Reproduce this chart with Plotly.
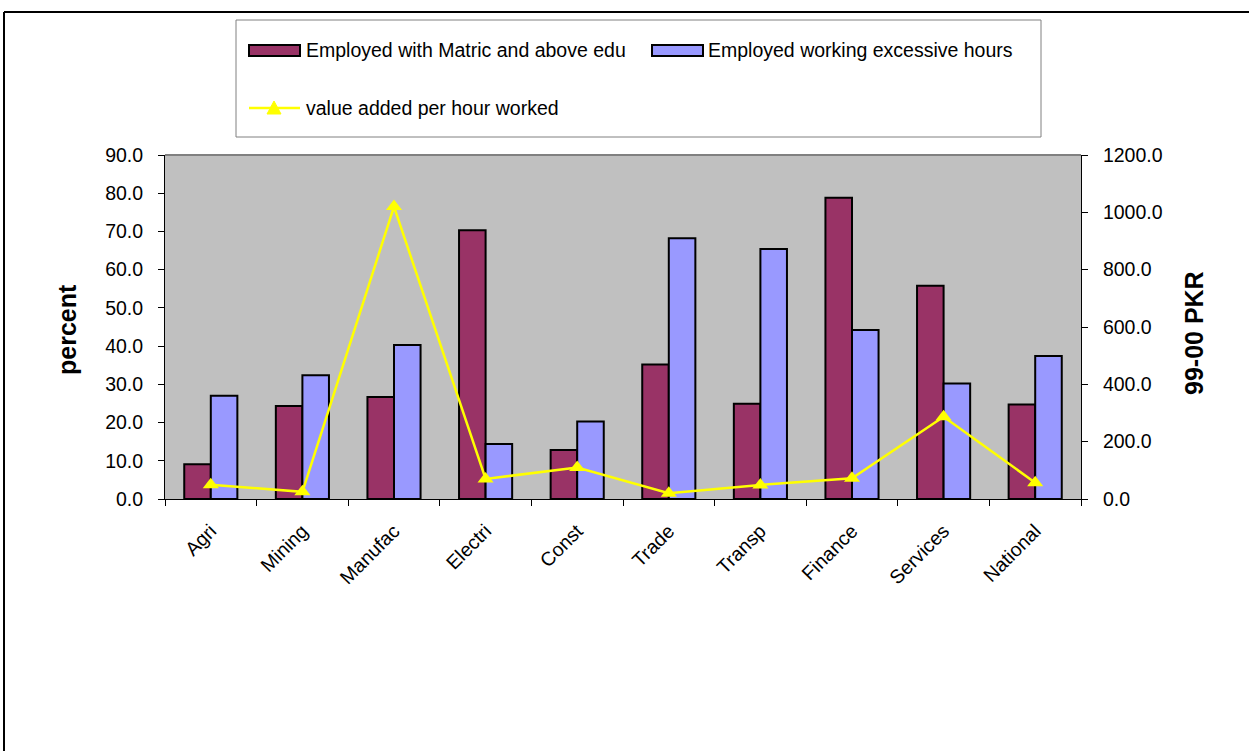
import plotly.graph_objects as go

categories = ["Agri", "Mining", "Manufac", "Electri", "Const", "Trade", "Transp", "Finance", "Services", "National"]
matric = [9.1, 24.3, 26.7, 70.3, 12.8, 35.2, 24.9, 78.8, 55.8, 24.7]
excess = [27.0, 32.4, 40.3, 14.4, 20.3, 68.2, 65.4, 44.2, 30.2, 37.4]
value_added = [50, 25, 1020, 70, 110, 20, 49, 72, 287, 57]

name_matric = "Employed with Matric and above edu"
name_excess = "Employed working excessive hours"
name_va = "value added per hour worked"

MAROON = "#993366"
BLUE = "#9999FF"
YELLOW = "#FFFF00"
FONT = "Liberation Sans, Arial, sans-serif"
TS = 19.5

W, H = 1249, 751
L, R, T, B = 165, 168, 155, 252
PW, PH = W - L - R, H - T - B


def px(x):
    return (x - L) / PW


def py(y):
    return (H - B - y) / PH


fig = go.Figure()
fig.add_trace(go.Bar(x=categories, y=matric, name=name_matric,
                     marker=dict(color=MAROON, line=dict(color="black", width=2))))
fig.add_trace(go.Bar(x=categories, y=excess, name=name_excess,
                     marker=dict(color=BLUE, line=dict(color="black", width=2))))
fig.add_trace(go.Scatter(x=categories, y=value_added, name=name_va, yaxis="y2",
                         mode="lines+markers",
                         line=dict(color=YELLOW, width=2.5),
                         marker=dict(symbol="triangle-up", size=14, color=YELLOW)))

axis_common = dict(showgrid=False, zeroline=False, showline=True, linecolor="black",
                   linewidth=1, ticks="outside", ticklen=6, tickcolor="black",
                   tickfont=dict(family=FONT, size=TS, color="black"))

fig.update_layout(
    width=W, height=H, autosize=False,
    margin=dict(l=L, r=R, t=T, b=B, pad=0),
    paper_bgcolor="white", plot_bgcolor="#C0C0C0",
    showlegend=False,
    barmode="group", bargap=0.42, bargroupgap=0,
    font=dict(family=FONT, size=TS, color="black"),
    xaxis=dict(type="category", range=[-0.5, len(categories) - 0.5], tickson="boundaries",
               tickangle=-45, ticklabelstandoff=12, **axis_common),
    yaxis=dict(range=[0, 90], dtick=10, tickformat=".1f", ticklabelstandoff=11,
               **axis_common),
    yaxis2=dict(range=[0, 1200], dtick=200, tickformat=".1f", overlaying="y",
                side="right", ticklabelstandoff=11, **axis_common),
)

shapes = []
# plot area top border
shapes.append(dict(type="line", xref="paper", yref="paper", x0=0, x1=1, y0=1, y1=1,
                   line=dict(color="#808080", width=2)))
# outer frame (top and left)
shapes.append(dict(type="line", xref="paper", yref="paper", x0=px(4), x1=px(1250),
                   y0=py(12), y1=py(12), line=dict(color="black", width=2)))
shapes.append(dict(type="line", xref="paper", yref="paper", x0=px(4), x1=px(4),
                   y0=py(12), y1=py(752), line=dict(color="black", width=2)))
# legend box
shapes.append(dict(type="rect", xref="paper", yref="paper", x0=px(236), x1=px(1041),
                   y0=py(137), y1=py(20), line=dict(color="#808080", width=1),
                   fillcolor="white"))
# legend swatches
shapes.append(dict(type="rect", xref="paper", yref="paper", x0=px(249), x1=px(300),
                   y0=py(56), y1=py(45), line=dict(color="black", width=2),
                   fillcolor=MAROON))
shapes.append(dict(type="rect", xref="paper", yref="paper", x0=px(652), x1=px(703),
                   y0=py(56), y1=py(45), line=dict(color="black", width=2),
                   fillcolor=BLUE))
shapes.append(dict(type="line", xref="paper", yref="paper", x0=px(249), x1=px(300),
                   y0=py(108), y1=py(108), line=dict(color=YELLOW, width=2.5)))
shapes.append(dict(type="path", xref="paper", yref="paper",
                   path="M {} {} L {} {} L {} {} Z".format(px(267), py(114), px(281), py(114),
                                                          px(274), py(101)),
                   line=dict(color=YELLOW, width=1), fillcolor=YELLOW))
fig.update_layout(shapes=shapes)

ann = []
ann.append(dict(text=name_matric, x=px(304), y=py(50), xref="paper", yref="paper",
                xanchor="left", yanchor="middle", showarrow=False,
                font=dict(family=FONT, size=TS, color="black")))
ann.append(dict(text=name_excess, x=px(706), y=py(50), xref="paper", yref="paper",
                xanchor="left", yanchor="middle", showarrow=False,
                font=dict(family=FONT, size=TS, color="black")))
ann.append(dict(text=name_va, x=px(304), y=py(108), xref="paper", yref="paper",
                xanchor="left", yanchor="middle", showarrow=False,
                font=dict(family=FONT, size=TS, color="black")))
ann.append(dict(text="<b>percent</b>", x=px(67), y=py(330), xref="paper", yref="paper",
                xanchor="center", yanchor="middle", textangle=-90, showarrow=False,
                font=dict(family=FONT, size=25, color="black")))
ann.append(dict(text="<b>99-00 PKR</b>", x=px(1194), y=py(333), xref="paper", yref="paper",
                xanchor="center", yanchor="middle", textangle=-90, showarrow=False,
                font=dict(family=FONT, size=25, color="black")))
fig.update_layout(annotations=ann)

fig.write_html("out.html")
